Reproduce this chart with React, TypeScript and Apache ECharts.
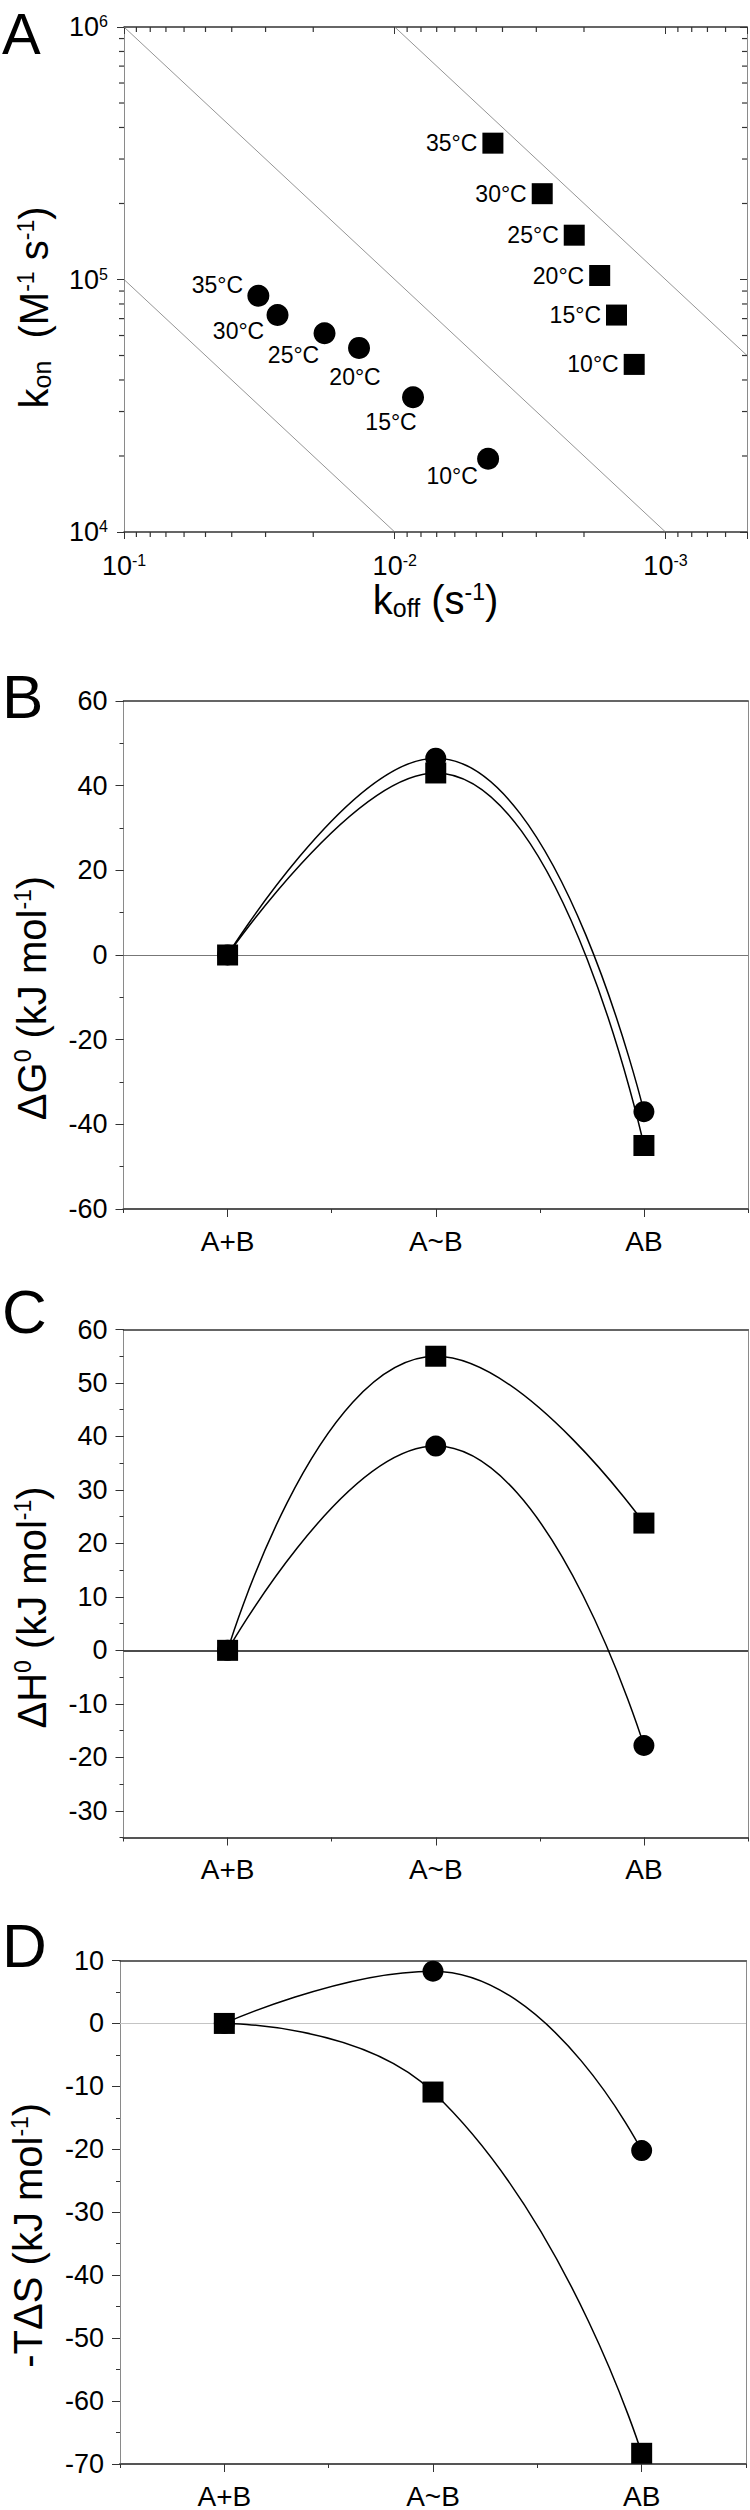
import React, { useEffect, useRef } from 'react';
import * as echarts from 'echarts';

const FONT = "'Liberation Sans', Arial, Helvetica, sans-serif";

// ---------- Panel A data ----------
const tempLabels = ['35°C', '30°C', '25°C', '20°C', '15°C', '10°C'];
const circleKoff = [0.0319, 0.0271, 0.01817, 0.01355, 0.00856, 0.00452];
const circleKon = [86300, 72300, 61300, 53600, 34200, 19500];
const squareKoff = [0.00434, 0.002853, 0.002173, 0.00175, 0.001517, 0.001305];
const squareKon = [346700, 218700, 149800, 103700, 72300, 46100];
// iso-affinity guide lines (end points as drawn)
const isoLine1 = [[0.1, 1e5], [0.01, 1e4]];
const isoLine2 = [[0.1, 1e6], [0.001, 1e4]];
const isoLine3 = [[0.01, 1e6], [0.0005, 5e4]];
// log-axis minor tick values
const xMinorTicks = [0.0006, 0.0007, 0.0008, 0.0009, 0.002, 0.003, 0.004, 0.005, 0.006, 0.007, 0.008, 0.009,
  0.02, 0.03, 0.04, 0.05, 0.06, 0.07, 0.08, 0.09];
const yMinorTicks = [2e4, 3e4, 4e4, 5e4, 6e4, 7e4, 8e4, 9e4, 2e5, 3e5, 4e5, 5e5, 6e5, 7e5, 8e5, 9e5];

// ---------- Panels B-D data ----------
const states = ['A+B', 'A~B', 'AB'];
const dGCircle = [0, 46.5, -37];
const dGSquare = [0, 43, -45];
const dHCircle = [0, 38.2, -17.8];
const dHSquare = [0, 55, 23.8];
const tdsCircle = [0, 8.3, -20.2];
const tdsSquare = [0, -10.9, -68.3];
const dGTicks = [-60, -40, -20, 0, 20, 40, 60];
const dHTicks = [-30, -20, -10, 0, 10, 20, 30, 40, 50, 60];
const tdsTicks = [-70, -60, -50, -40, -30, -20, -10, 0, 10];

// label placement for circle labels in panel A (pixel offsets from marker centre)
const circleLabelOffset = [[-41, -11], [-39, 16], [-31, 22], [-4, 29], [-22, 25], [-36, 17]];

const BLACK = '#000';
const FRAME_DARK = '#333';
const FRAME_LIGHT = '#8a8a8a';

const tickRich: any = {
  b: { fontSize: 27, fontFamily: FONT, color: BLACK },
  s: { fontSize: 16, fontFamily: FONT, color: BLACK, verticalAlign: 'top' },
};
const titleRich: any = {
  t: { fontSize: 40, fontFamily: FONT, color: BLACK },
  u: { fontSize: 23, fontFamily: FONT, color: BLACK, verticalAlign: 'top' },
  d: { fontSize: 25, fontFamily: FONT, color: BLACK, verticalAlign: 'bottom' },
};

function pow10Label(v: number) {
  const e = Math.log10(v);
  const n = Math.round(e);
  if (Math.abs(e - n) > 1e-6) return '';
  return `{b|10}{s|${n}}`;
}

const grids = [
  { left: 124, top: 27, width: 624, height: 505 },
  { left: 123.5, top: 701, width: 624.5, height: 508 },
  { left: 123.5, top: 1329.5, width: 624.5, height: 508 },
  { left: 120, top: 1960.5, width: 626, height: 507.5 },
];

function tickScatter(data: number[][], size: number[], offset: number[]) {
  return {
    type: 'scatter', xAxisIndex: 0, yAxisIndex: 0, data, symbol: 'rect', symbolSize: size,
    symbolOffset: offset, itemStyle: { color: FRAME_DARK, opacity: 1 }, silent: true, clip: false, z: 4,
  };
}

function buildOption() {
  const xAxis: any[] = [];
  const yAxis: any[] = [];
  const series: any[] = [];

  // ----- Panel A -----
  xAxis.push({
    type: 'log', gridIndex: 0, min: 0.0005, max: 0.1, inverse: true, position: 'bottom',
    axisLine: { show: true, onZero: false, lineStyle: { color: FRAME_DARK, width: 1.5 } },
    axisTick: { show: true, length: 7, lineStyle: { color: FRAME_DARK } },
    axisLabel: { formatter: pow10Label, rich: tickRich, margin: 20 },
    splitLine: { show: false },
    name: '{t|k}{d|off}{t| (s}{u|-1}{t|)}', nameLocation: 'middle', nameGap: 48,
    nameTextStyle: { rich: titleRich },
  });
  xAxis.push({
    type: 'log', gridIndex: 0, min: 0.0005, max: 0.1, inverse: true, position: 'top',
    axisLine: { show: true, onZero: false, lineStyle: { color: FRAME_DARK, width: 1.5 } },
    axisTick: { show: true, inside: true, length: 7, lineStyle: { color: FRAME_DARK } },
    axisLabel: { show: false }, splitLine: { show: false },
  });
  yAxis.push({
    type: 'log', gridIndex: 0, min: 1e4, max: 1e6, position: 'left',
    axisLine: { show: true, onZero: false, lineStyle: { color: FRAME_LIGHT, width: 1 } },
    axisTick: { show: true, length: 7, lineStyle: { color: FRAME_DARK } },
    axisLabel: { formatter: pow10Label, rich: tickRich, margin: 16 },
    splitLine: { show: false },
    name: '{t|k}{d|on}{t|  (M}{u|-1}{t| s}{u|-1}{t|)}', nameLocation: 'middle', nameGap: 70,
    nameTextStyle: { rich: titleRich, padding: [0, 56, 0, 0] },
  });
  yAxis.push({
    type: 'log', gridIndex: 0, min: 1e4, max: 1e6, position: 'right',
    axisLine: { show: true, onZero: false, lineStyle: { color: FRAME_LIGHT, width: 1 } },
    axisTick: { show: true, inside: true, length: 7, lineStyle: { color: FRAME_DARK } },
    axisLabel: { show: false }, splitLine: { show: false },
  });

  [isoLine1, isoLine2, isoLine3].forEach((d) => {
    series.push({
      type: 'line', xAxisIndex: 0, yAxisIndex: 0, data: d, symbol: 'none', silent: true,
      lineStyle: { color: '#7a7a7a', width: 0.8 }, z: 1,
    });
  });
  series.push({
    type: 'scatter', xAxisIndex: 0, yAxisIndex: 0, symbol: 'circle', symbolSize: 22,
    itemStyle: { color: BLACK, opacity: 1 },
    data: circleKoff.map((x, i) => ({ value: [x, circleKon[i]], label: { offset: circleLabelOffset[i] } })),
    label: {
      show: true, position: 'inside', color: BLACK, fontSize: 23, fontFamily: FONT,
      formatter: (p: any) => tempLabels[p.dataIndex],
    },
    z: 3,
  });
  series.push({
    type: 'scatter', xAxisIndex: 0, yAxisIndex: 0, symbol: 'rect', symbolSize: 21,
    itemStyle: { color: BLACK, opacity: 1 },
    data: squareKoff.map((x, i) => [x, squareKon[i]]),
    label: {
      show: true, position: 'left', distance: 5, color: BLACK, fontSize: 23, fontFamily: FONT,
      formatter: (p: any) => tempLabels[p.dataIndex],
    },
    z: 3,
  });
  series.push(tickScatter(xMinorTicks.map((v) => [v, 1e4]), [1.2, 5], [0, 2.5]));
  series.push(tickScatter(xMinorTicks.map((v) => [v, 1e6]), [1.2, 5], [0, 2.5]));
  series.push(tickScatter(yMinorTicks.map((v) => [0.1, v]), [5, 1.2], [-2.5, 0]));
  series.push(tickScatter(yMinorTicks.map((v) => [0.0005, v]), [5, 1.2], [-2.5, 0]));

  // ----- Panels B-D -----
  const panels = [
    { g: 1, min: -60, max: 60, ticks: dGTicks, minor: 10, title: '{t|ΔG}{u|0}{t| (kJ mol}{u|-1}{t|)}', shift: 86,
      circle: dGCircle, square: dGSquare, zero: { color: '#777', width: 1 } },
    { g: 2, min: -35, max: 60, ticks: dHTicks, minor: 5, title: '{t|ΔH}{u|0}{t| (kJ mol}{u|-1}{t|)}', shift: 48,
      circle: dHCircle, square: dHSquare, zero: { color: '#111', width: 1.5 } },
    { g: 3, min: -70, max: 10, ticks: tdsTicks, minor: 5, title: '{t|-TΔS (kJ mol}{u|-1}{t|)}', shift: 46,
      circle: tdsCircle, square: tdsSquare, zero: { color: '#c4c4c4', width: 1 } },
  ];

  panels.forEach((p) => {
    const xMain = xAxis.length;
    xAxis.push({
      type: 'category', gridIndex: p.g, data: states, boundaryGap: true, position: 'bottom',
      axisLine: { show: true, onZero: false, lineStyle: { color: '#555', width: 2 } },
      axisTick: { show: true, alignWithLabel: true, length: 8, lineStyle: { color: FRAME_DARK } },
      axisLabel: { fontSize: 28, color: BLACK, fontFamily: FONT, margin: 18 },
      splitLine: { show: false },
    });
    xAxis.push({
      type: 'category', gridIndex: p.g, data: states, boundaryGap: true, position: 'bottom',
      axisLine: { show: false, onZero: false },
      axisTick: { show: true, alignWithLabel: false, length: 4, lineStyle: { color: FRAME_DARK } },
      axisLabel: { show: false }, splitLine: { show: false },
    });
    xAxis.push({
      type: 'category', gridIndex: p.g, data: states, boundaryGap: true, position: 'top',
      axisLine: { show: true, onZero: false, lineStyle: { color: FRAME_DARK, width: 1.5 } },
      axisTick: { show: false }, axisLabel: { show: false }, splitLine: { show: false },
    });
    const yMain = yAxis.length;
    yAxis.push({
      type: 'value', gridIndex: p.g, min: p.min, max: p.max, position: 'left',
      axisLine: { show: true, onZero: false, lineStyle: { color: FRAME_LIGHT, width: 1 } },
      axisTick: { show: true, customValues: p.ticks, length: 8, lineStyle: { color: FRAME_DARK } },
      axisLabel: { customValues: p.ticks, fontSize: 27, color: BLACK, fontFamily: FONT, margin: 16 },
      splitLine: { show: false },
      name: p.title, nameLocation: 'middle', nameGap: 72,
      nameTextStyle: { rich: titleRich, padding: [0, p.shift, 0, 0] },
    });
    yAxis.push({
      type: 'value', gridIndex: p.g, min: p.min, max: p.max, interval: p.minor, position: 'left',
      axisLine: { show: false, onZero: false },
      axisTick: { show: true, length: 4, lineStyle: { color: FRAME_DARK } },
      axisLabel: { show: false }, splitLine: { show: false },
    });
    yAxis.push({
      type: 'value', gridIndex: p.g, min: p.min, max: p.max, position: 'right',
      axisLine: { show: true, onZero: false, lineStyle: { color: FRAME_LIGHT, width: 1 } },
      axisTick: { show: false }, axisLabel: { show: false }, splitLine: { show: false },
    });

    series.push({
      type: 'line', xAxisIndex: xMain, yAxisIndex: yMain, data: p.circle, smooth: true,
      symbol: 'circle', symbolSize: 21, itemStyle: { color: BLACK, opacity: 1 },
      lineStyle: { color: BLACK, width: 1.5 }, z: 3,
      markLine: {
        silent: true, symbol: ['none', 'none'], label: { show: false },
        lineStyle: { color: p.zero.color, width: p.zero.width, type: 'solid' },
        data: [{ yAxis: 0 }], z: 1,
      },
    });
    series.push({
      type: 'line', xAxisIndex: xMain, yAxisIndex: yMain, data: p.square, smooth: true,
      symbol: 'rect', symbolSize: 21, itemStyle: { color: BLACK, opacity: 1 },
      lineStyle: { color: BLACK, width: 1.5 }, z: 4,
    });
  });

  const letters = [
    { t: 'A', y: 4, va: 'top', size: 58 },
    { t: 'B', y: 696, va: 'middle', size: 62 },
    { t: 'C', y: 1311, va: 'middle', size: 62 },
    { t: 'D', y: 1945, va: 'middle', size: 62 },
  ];

  return {
    animation: false,
    backgroundColor: '#fff',
    textStyle: { fontFamily: FONT },
    grid: grids.map((g) => ({ ...g, containLabel: false })),
    xAxis,
    yAxis,
    series,
    graphic: letters.map((l) => ({
      type: 'text', x: 2, y: l.y,
      style: { text: l.t, font: `${l.size}px ${FONT}`, fill: BLACK, align: 'left', verticalAlign: l.va },
    })),
  };
}

export default function App() {
  const ref = useRef<HTMLDivElement>(null);
  useEffect(() => {
    document.body.style.margin = '0';
    const chart = echarts.init(ref.current!, undefined, { renderer: 'svg', width: 750, height: 2510 });
    chart.setOption(buildOption() as any);
    return () => chart.dispose();
  }, []);
  return (
    <div
      ref={ref}
      style={{ position: 'absolute', left: 0, top: 0, width: 750, height: 2510, background: '#fff' }}
    />
  );
}
